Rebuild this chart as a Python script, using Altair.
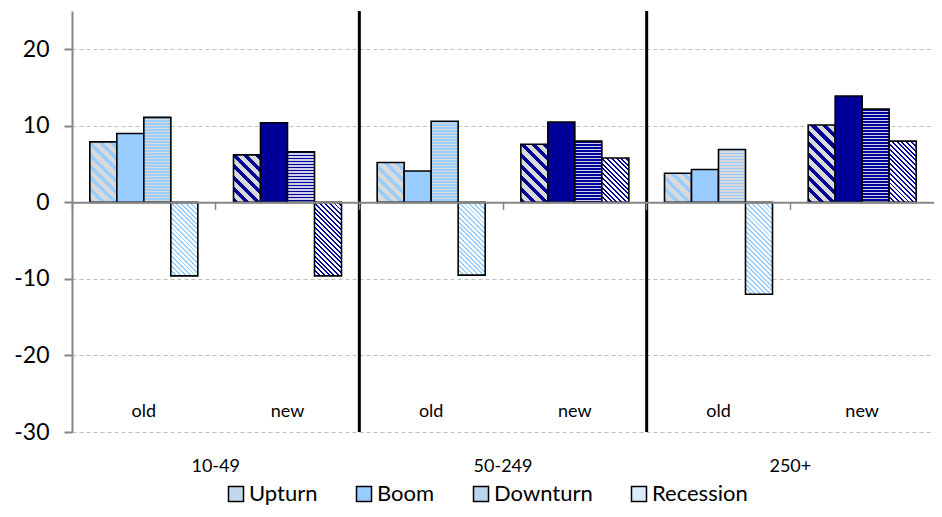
import math
import altair as alt
import pandas as pd

# ---- data ----
groups = ["10-49", "50-249", "250+"]
cohorts = ["old", "new"]
series = ["Upturn", "Boom", "Downturn", "Recession"]

old_upturn = [7.9, 5.2, 3.8]
old_boom = [9.0, 4.1, 4.3]
old_downturn = [11.1, 10.6, 6.9]
old_recession = [-9.6, -9.5, -12.0]

new_upturn = [6.2, 7.6, 10.1]
new_boom = [10.4, 10.5, 13.9]
new_downturn = [6.6, 8.0, 12.2]
new_recession = [-9.6, 5.8, 8.0]

old_vals = dict(zip(series, [old_upturn, old_boom, old_downturn, old_recession]))
new_vals = dict(zip(series, [new_upturn, new_boom, new_downturn, new_recession]))

rows = []
for gi, g in enumerate(groups):
    for c in cohorts:
        vals = old_vals if c == "old" else new_vals
        for s in series:
            rows.append({"cat": f"{g} {c}", "group": g, "cohort": c,
                         "series": s, "value": vals[s][gi]})
df = pd.DataFrame(rows)
df["id"] = range(len(df))
cats = [f"{g} {c}" for g in groups for c in cohorts]

# ---- layout ----
W, H = 862, 421
YMIN, YMAX = -30, 25
PX = H / (YMAX - YMIN)
STEP = W / len(cats)
BAR_W = 27
PO = (STEP / BAR_W - len(series)) / 2

LIGHT = "#99CCFF"
NAVY = "#000099"
GRAY = "#D9D9D9"
FONT = "Lato"


def stripes(n, stripe, bg, frac):
    stops = []
    i = 0
    while i < n:
        a = i / n
        b = min((i + frac) / n, 1)
        c = min((i + 1) / n, 1)
        stops += [{"offset": round(a, 5), "color": stripe},
                  {"offset": round(b, 5), "color": stripe},
                  {"offset": round(b, 5), "color": bg},
                  {"offset": round(c, 5), "color": bg}]
        i += 1
    return stops


def diag(w, h, period, stripe, bg, frac):
    n = (w + h) / (math.sqrt(2) * period)
    k = (w + h) / (w * w + h * h)
    return {"gradient": "linear", "x1": 0, "y1": 1,
            "x2": round(k * w, 5), "y2": round(1 - k * h, 5),
            "stops": stripes(n, stripe, bg, frac)}


def horiz(h, period, stripe, bg, frac):
    return {"gradient": "linear", "x1": 0, "y1": 0, "x2": 0, "y2": 1,
            "stops": stripes(h / period, stripe, bg, frac)}


def fill_for(s, cohort, w, h):
    col = LIGHT if cohort == "old" else NAVY
    if s == "Upturn":
        return diag(w, h, 8.0, col, GRAY, 0.45)
    if s == "Boom":
        return col
    if s == "Downturn":
        return horiz(h, 3.0, col, GRAY if cohort == "old" else "#D0D0E8", 0.55)
    return diag(w, h, 3.4, col, "white", 0.4)


xscale = alt.Scale(domain=cats, paddingInner=0, paddingOuter=0)
xoff_scale = alt.Scale(domain=series, paddingInner=0, paddingOuter=PO)
yscale = alt.Scale(domain=[YMIN, YMAX], nice=False, zero=False)

xaxis = alt.Axis(labels=False, title=None, bandPosition=0, grid=False,
                 domainColor="#868686", domainWidth=2, tickColor="#868686",
                 tickSize=7, tickWidth=1.5, offset=-(H * (0 - YMIN) / (YMAX - YMIN)),
                 zindex=1)
yaxis = alt.Axis(values=[-30, -20, -10, 0, 10, 20], title=None, grid=True,
                 gridDash=[4, 3], gridColor="#BFBFBF", gridWidth=1,
                 domainColor="#868686", domainWidth=2, tickColor="#868686",
                 tickSize=8, tickWidth=2, labelFont=FONT, labelFontSize=23,
                 labelColor="black", labelPadding=15,
                 labelExpr="datum.value < 0 ? '-' + abs(datum.value) : '' + datum.value")

layers = []
for _, r in df.iterrows():
    h = abs(r["value"]) * PX
    f = fill_for(r["series"], r["cohort"], BAR_W, h)
    layers.append(
        alt.Chart(df).transform_filter(alt.datum.id == int(r["id"]))
        .mark_bar(fill=f, stroke="black", strokeWidth=1.6)
        .encode(x=alt.X("cat:N", scale=xscale, axis=xaxis),
                xOffset=alt.XOffset("series:N", scale=xoff_scale),
                y=alt.Y("value:Q", scale=yscale, axis=yaxis))
    )

# separators between size groups
sep_df = pd.DataFrame({"cat": [f"{g} old" for g in groups[1:]]})
seps = alt.Chart(sep_df).mark_rule(color="black", strokeWidth=3).encode(
    x=alt.X("cat:N", scale=xscale, bandPosition=0),
    y=alt.datum(YMAX), y2=alt.datum(YMIN))

# cohort labels
lab_df = pd.DataFrame({"cat": cats, "label": [c for g in groups for c in cohorts]})
cohort_text = alt.Chart(lab_df).mark_text(
    font=FONT, fontSize=18, baseline="alphabetic", color="black").encode(
    x=alt.X("cat:N", scale=xscale), y=alt.datum(-28.0), text="label:N")

# group labels
grp_df = pd.DataFrame({"cat": [f"{g} new" for g in groups], "label": groups})
group_text = alt.Chart(grp_df).mark_text(
    font=FONT, fontSize=18, baseline="alphabetic", color="black").encode(
    x=alt.X("cat:N", scale=xscale, bandPosition=0), y=alt.datum(-35.2), text="label:N")

# legend (scale domain drives the entries)
legend_layer = alt.Chart(df).transform_filter("false").mark_bar().encode(
    fill=alt.Fill("series:N",
                  scale=alt.Scale(domain=series, range=["#C2D8EE", LIGHT, "#BBD4EE", "#DCEBFA"]),
                  legend=alt.Legend(
                      orient="none", legendX=153, legendY=472, direction="horizontal",
                      title=None, symbolType="square", symbolSize=225,
                      symbolStrokeColor="black", symbolStrokeWidth=1.5,
                      labelFont=FONT, labelFontSize=22, labelColor="black",
                      columnPadding=35, labelOffset=2, symbolOpacity=1)))

chart = alt.layer(*layers, seps, cohort_text, group_text, legend_layer).properties(
    width=W, height=H,
    padding={"left": 64, "top": 3, "right": 0, "bottom": 77},
    autosize=alt.AutoSizeParams(type="none"),
).configure_view(stroke=None)

chart.save("out.html", embed_options={"renderer": "svg", "actions": False})
